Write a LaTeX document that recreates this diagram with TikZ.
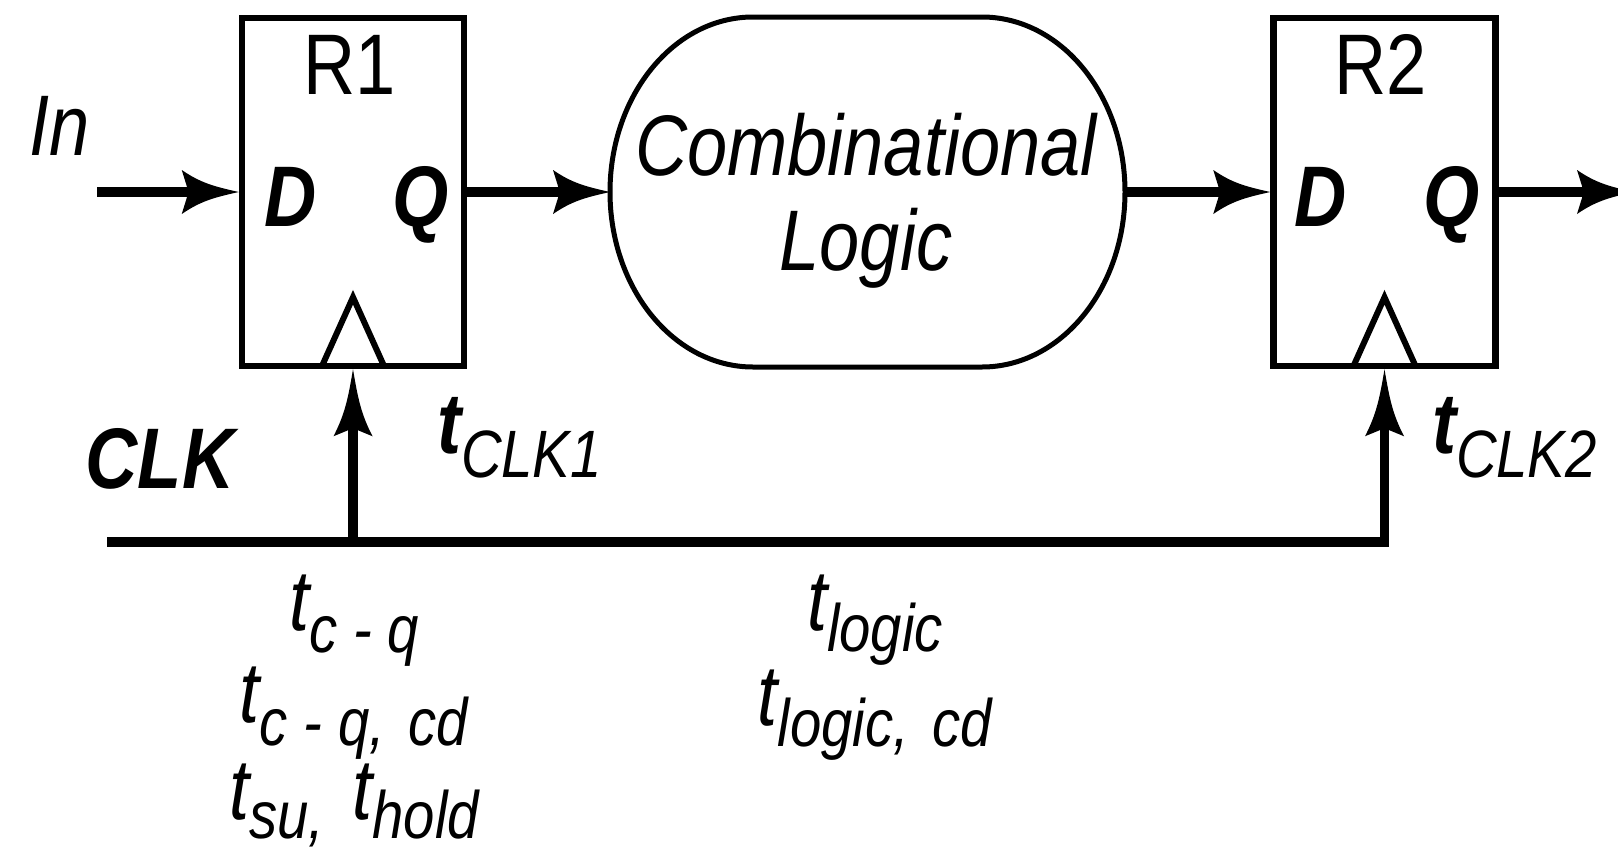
\documentclass[tikz,border=0pt]{standalone}
\usepackage{fontspec}
\setmainfont{Liberation Sans}[FakeStretch=0.84]
\usetikzlibrary{arrows.meta,calc}

\pgfdeclarearrow{
  name = Spike,
  parameters = {\the\pgfarrowlength,\the\pgfarrowwidth},
  setup code = {
    \pgfarrowssettipend{0pt}
    \pgfarrowssetbackend{-\pgfarrowlength}
    \pgfarrowssetlineend{-0.5\pgfarrowlength}
    \pgfarrowsupperhullpoint{-\pgfarrowlength}{0.5\pgfarrowwidth}
    \pgfarrowsupperhullpoint{0pt}{0pt}
    \pgfarrowssavethe\pgfarrowlength
    \pgfarrowssavethe\pgfarrowwidth
  },
  drawing code = {
    \pgfpathmoveto{\pgfpointorigin}
    \pgfpathcurveto{\pgfpoint{-0.45\pgfarrowlength}{0.13\pgfarrowwidth}}{\pgfpoint{-0.67\pgfarrowlength}{0.21\pgfarrowwidth}}{\pgfpoint{-\pgfarrowlength}{0.5\pgfarrowwidth}}
    \pgfpathlineto{\pgfpoint{-0.88\pgfarrowlength}{0pt}}
    \pgfpathlineto{\pgfpoint{-\pgfarrowlength}{-0.5\pgfarrowwidth}}
    \pgfpathcurveto{\pgfpoint{-0.67\pgfarrowlength}{-0.21\pgfarrowwidth}}{\pgfpoint{-0.45\pgfarrowlength}{-0.13\pgfarrowwidth}}{\pgfpointorigin}
    \pgfpathclose
    \pgfusepathqfill
  },
  defaults = {length = 57pt, width = 43pt}
}

\newcommand{\bigtxt}{\fontsize{86}{95}\selectfont}
\newcommand{\subtxt}{\fontsize{67}{70}\selectfont}

\begin{document}
\begin{tikzpicture}[x=1pt,y=1pt,
  reg/.style={draw, line width=6.5pt, minimum width=222pt, minimum height=348pt, inner sep=0pt},
  conn/.style={line width=9.5pt},
  harr/.style={-{Spike[length=57pt,width=44pt]}},
  varr/.style={-{Spike[length=67pt,width=39pt]}},
  tri/.style={line width=6pt, line join=miter},
  combline/.style={line width=5pt},
  lbl/.style={inner sep=0pt, outer sep=0pt, anchor=base, font=\bigtxt},
  pin/.style={lbl, font=\bigtxt\bfseries\itshape}
]
\useasboundingbox (0,0) rectangle (1618,-852);
\fill[white] (0,0) rectangle (1618,-852);
\clip (0,0) rectangle (1618,-852);

% registers and logic
\node[reg] (r1) at (353,-192) {};
\node[reg] (r2) at (1384.5,-192) {};
\node[inner sep=0pt, outer sep=0pt, minimum width=515pt, minimum height=350pt] (comb) at (867.5,-192) {};
\draw[combline] ([xshift=143pt]comb.north west) -- ([xshift=-143pt]comb.north east)
  arc[start angle=90, end angle=-90, x radius=143pt, y radius=175pt]
  -- ([xshift=143pt]comb.south west)
  arc[start angle=270, end angle=90, x radius=143pt, y radius=175pt] -- cycle;

% clock triangles
\draw[tri] ($(r1.south)+(-31,3.25)$) -- ($(r1.south)+(0,72)$) -- ($(r1.south)+(31,3.25)$);
\draw[tri] ($(r2.south)+(-31,3.25)$) -- ($(r2.south)+(0,72)$) -- ($(r2.south)+(31,3.25)$);

% texts inside
\node[lbl] (r1lbl) at (350,-94) {R1};
\node[lbl] (r2lbl) at (1381,-94) {R2};
\node[pin] (r1d) at (291,-226) {D};
\node[pin] (r1q) at (421,-226) {Q};
\node[pin] (r2d) at (1321,-226) {D};
\node[pin] (r2q) at (1452,-226) {Q};
\node[lbl, font=\bigtxt\itshape] (comb1) at (866,-175) {Combinational};
\node[lbl, font=\bigtxt\itshape] (comb2) at (866,-270) {Logic};

% data connectors
\coordinate (inL) at (97,-192);
\coordinate (outR) at (1634,-192);
\draw[conn,harr] (inL) -- (r1.west);
\draw[conn,harr] (r1.east) -- (comb.west);
\draw[conn,harr] (comb.east) -- (r2.west);
\draw[conn,harr] (r2.east) -- (outR);

% clock
\coordinate (clkL) at (107,-542);
\draw[conn,varr,line join=miter] (clkL) -- (r2.south |- clkL) -- (r2.south);
\draw[conn,varr] (r1.south |- clkL) -- (r1.south);

% labels
\node[lbl, font=\bigtxt\itshape] (inlbl) at (60,-155) {In};
\node[pin] (clklbl) at (160,-488) {CLK};
\node[lbl, anchor=base west] (tclk1) at (437,-453) {{\bfseries\itshape t}{\itshape\raisebox{-24pt}{\subtxt CLK1}}};
\node[lbl, anchor=base west] (tclk2) at (1432,-453) {{\bfseries\itshape t}{\itshape\raisebox{-24pt}{\subtxt CLK2}}};

\node[lbl, font=\bigtxt\itshape] (tcq) at (354,-630) {t\raisebox{-22pt}{\subtxt c - q}};
\node[lbl, font=\bigtxt\itshape] (tcqcd) at (354,-722) {t\raisebox{-23pt}{\subtxt c - q,\hspace{8pt} cd}};
\node[lbl, font=\bigtxt\itshape] (tsuhold) at (354,-819) {t\raisebox{-19pt}{\subtxt su,}\hspace{8pt} t\raisebox{-19pt}{\subtxt hold}};
\node[lbl, font=\bigtxt\itshape] (tlogic) at (875,-630) {t\raisebox{-21pt}{\subtxt logic}};
\node[lbl, font=\bigtxt\itshape] (tlogiccd) at (875,-725) {t\raisebox{-21pt}{\subtxt logic,\hspace{8pt} cd}};
\end{tikzpicture}
\end{document}
